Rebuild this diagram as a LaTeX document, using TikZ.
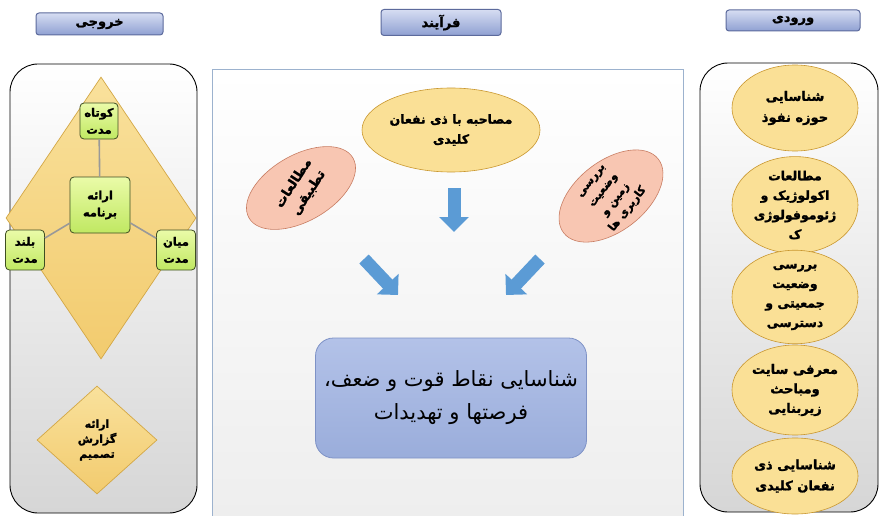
\documentclass[tikz,border=0pt]{standalone}
\usepackage{fontspec}
\setmainfont{DejaVu Sans}
\newfontfamily\arabicfont[Script=Arabic, BoldFont={DejaVu Sans Bold}, BoldFeatures={FakeBold=1.6}]{DejaVu Sans}
\TeXXeTstate=1
\usetikzlibrary{shapes.geometric,arrows.meta}
\newcommand{\fa}[1]{\beginR #1\endR}
\definecolor{gA}{HTML}{FAE096}
\definecolor{gB}{HTML}{F1C962}
\definecolor{gC}{HTML}{C9972F}
\definecolor{pA}{HTML}{F8C6B2}
\definecolor{pB}{HTML}{EEA78D}
\definecolor{pC}{HTML}{C87D63}
\definecolor{hdrtop}{HTML}{D6DDF2}
\definecolor{hdrbot}{HTML}{8FA0D2}
\definecolor{hdrline}{HTML}{5C6A9C}
\definecolor{greentop}{HTML}{EAFBA8}
\definecolor{greenbot}{HTML}{C0E862}
\definecolor{greenline}{HTML}{3E4E22}
\definecolor{arrowblue}{HTML}{5B9BD5}
\definecolor{boxtop}{HTML}{B3C2E8}
\definecolor{boxbot}{HTML}{9AADDB}
\definecolor{boxline}{HTML}{7E92C6}
\definecolor{midline}{HTML}{9CB2CE}
\definecolor{panelbot}{HTML}{D6D6D6}
\definecolor{diamtop}{HTML}{F9E19C}
\definecolor{diambot}{HTML}{F2CB6E}
\definecolor{diamline}{HTML}{D3A745}
\pgfdeclareradialshading{goldbevel}{\pgfpoint{0bp}{0bp}}{color(0bp)=(gA); color(28bp)=(gA); color(42bp)=(gB); color(50bp)=(gC)}
\pgfdeclareradialshading{pinkbevel}{\pgfpoint{0bp}{0bp}}{color(0bp)=(pA); color(28bp)=(pA); color(42bp)=(pB); color(50bp)=(pC)}
\begin{document}
\begin{tikzpicture}[x=1pt,y=-1pt,
  hdr/.style={draw=hdrline, line width=1, rounded corners=3, top color=hdrtop, bottom color=hdrbot,
    inner sep=0, font=\arabicfont\bfseries\fontsize{13}{15}\selectfont},
  panel/.style={draw=black, line width=0.9, rounded corners=28, top color=white, bottom color=panelbot, inner sep=0},
  goldell/.style={ellipse, shading=goldbevel, draw=gC, line width=0.6, inner sep=0,
    align=center, font=\arabicfont\bfseries\fontsize{12.5}{19}\selectfont},
  pinkell/.style={ellipse, shading=pinkbevel, draw=pC, line width=0.6, inner sep=0},
  lbl/.style={align=center, inner sep=0, font=\arabicfont\bfseries\fontsize{13}{18}\selectfont},
  greenbox/.style={draw=greenline, line width=0.8, rounded corners=4, top color=greentop, bottom color=greenbot,
    align=center, inner sep=0, font=\arabicfont\bfseries\fontsize{11.5}{17}\selectfont},
  spoke/.style={draw=gray!80, line width=1.6},
  barrow/.style={draw=arrowblue, line width=13, -{Triangle[width=29pt,length=15pt]}},
]
\useasboundingbox (0,0) rectangle (883,516);
\fill[white] (0,0) rectangle (883,516);

% headers
\node[hdr, minimum width=127, minimum height=22] (hout) at (99.5,24) {\fa{خروجی}};
\node[hdr, minimum width=120, minimum height=26] (hproc) at (441,22.5) {\fa{فرآیند}};
\node[hdr, minimum width=134, minimum height=21] (hin) at (793,20.5) {\fa{ورودی}};

% panels
\node[panel, minimum width=187, minimum height=449] (leftpanel) at (103.5,288.5) {};
\node[panel, minimum width=178, minimum height=449] (rightpanel) at (789,287.5) {};
\path[draw=midline, line width=1, top color=white, bottom color=gray!14] (212,70) rectangle (683,540);

% left: output
\node[diamond, minimum width=190, minimum height=282, inner sep=0, draw=diamline, line width=0.7,
  top color=diamtop, bottom color=diambot] (bigdiam) at (101,218) {};
\node[greenbox, minimum width=60, minimum height=56] (plan) at (100,205) {\fa{ارائه}\\\fa{برنامه}};
\node[greenbox, minimum width=38, minimum height=36] (short) at (99,121) {\fa{کوتاه}\\\fa{مدت}};
\node[greenbox, minimum width=39, minimum height=40] (long) at (25,250) {\fa{بلند}\\\fa{مدت}};
\node[greenbox, minimum width=39, minimum height=40] (mid) at (176,250) {\fa{میان}\\\fa{مدت}};
\draw[spoke] (plan) -- (short);
\draw[spoke] (plan) -- (long);
\draw[spoke] (plan) -- (mid);
\node[diamond, minimum width=120, minimum height=108, inner sep=0, draw=diamline, line width=0.7,
  top color=diamtop, bottom color=diambot, align=center,
  font=\arabicfont\bfseries\fontsize{11}{15}\selectfont] (report) at (97,440)
  {\fa{ارائه}\\\fa{گزارش}\\\fa{تصمیم}};

% middle: process
\node[goldell, minimum width=178, minimum height=84, font=\arabicfont\bfseries\fontsize{12.5}{20}\selectfont] (interview) at (451,130)
  {\fa{مصاحبه با ذی نفعان}\\\fa{کلیدی}};
\node[pinkell, minimum width=120, minimum height=66, rotate=30] (compar) at (301,188) {};
\node[lbl, rotate=57] (comparlbl) at (301,188) {\fa{مطالعات}\\\fa{تطبیقی}};
\node[pinkell, minimum width=120, minimum height=70, rotate=38] (land) at (611,196) {};
\node[lbl, rotate=52, font=\arabicfont\bfseries\fontsize{11}{15.5}\selectfont] (landlbl) at (611,196)
  {\fa{بررسی}\\\fa{وضعیت}\\\fa{زمین و}\\\fa{کاربری ها}};
\coordinate (a1s) at (454,188); \coordinate (a1e) at (454,232);
\coordinate (a2s) at (364,259); \coordinate (a2e) at (398,295);
\coordinate (a3s) at (540,259); \coordinate (a3e) at (506,295);
\draw[barrow] (a1s) -- (a1e);
\draw[barrow] (a2s) -- (a2e);
\draw[barrow] (a3s) -- (a3e);
\node[draw=boxline, line width=0.8, rounded corners=18, top color=boxtop, bottom color=boxbot,
  minimum width=271, minimum height=120, align=center, inner sep=0,
  font=\arabicfont\fontsize{21}{33}\selectfont] (swot) at (451,398)
  {\fa{شناسایی نقاط قوت و ضعف،}\\\fa{فرصتها و تهدیدات}};

% right: input
\node[goldell, minimum width=126, minimum height=86, font=\arabicfont\bfseries\fontsize{13}{21}\selectfont] (e1) at (795,108) {\fa{شناسایی}\\\fa{حوزه نفوذ}};
\node[goldell, minimum width=126, minimum height=96, font=\arabicfont\bfseries\fontsize{12.5}{19.5}\selectfont] (e2) at (795,205)
  {\fa{مطالعات}\\\fa{اکولوژیک و}\\\fa{ژئوموفولوژی}\\\fa{ک}};
\node[goldell, minimum width=126, minimum height=92, font=\arabicfont\bfseries\fontsize{12.5}{19.5}\selectfont] (e3) at (795,297)
  {\fa{بررسی}\\\fa{وضعیت}\\\fa{جمعیتی و}\\\fa{دسترسی}};
\node[goldell, minimum width=126, minimum height=90, font=\arabicfont\bfseries\fontsize{13}{19.5}\selectfont] (e4) at (795,390)
  {\fa{معرفی سایت}\\\fa{ومباحث}\\\fa{زیربنایی}};
\node[goldell, minimum width=126, minimum height=76, font=\arabicfont\bfseries\fontsize{13}{21}\selectfont] (e5) at (795,476)
  {\fa{شناسایی ذی}\\\fa{نفعان کلیدی}};
\end{tikzpicture}
\end{document}
